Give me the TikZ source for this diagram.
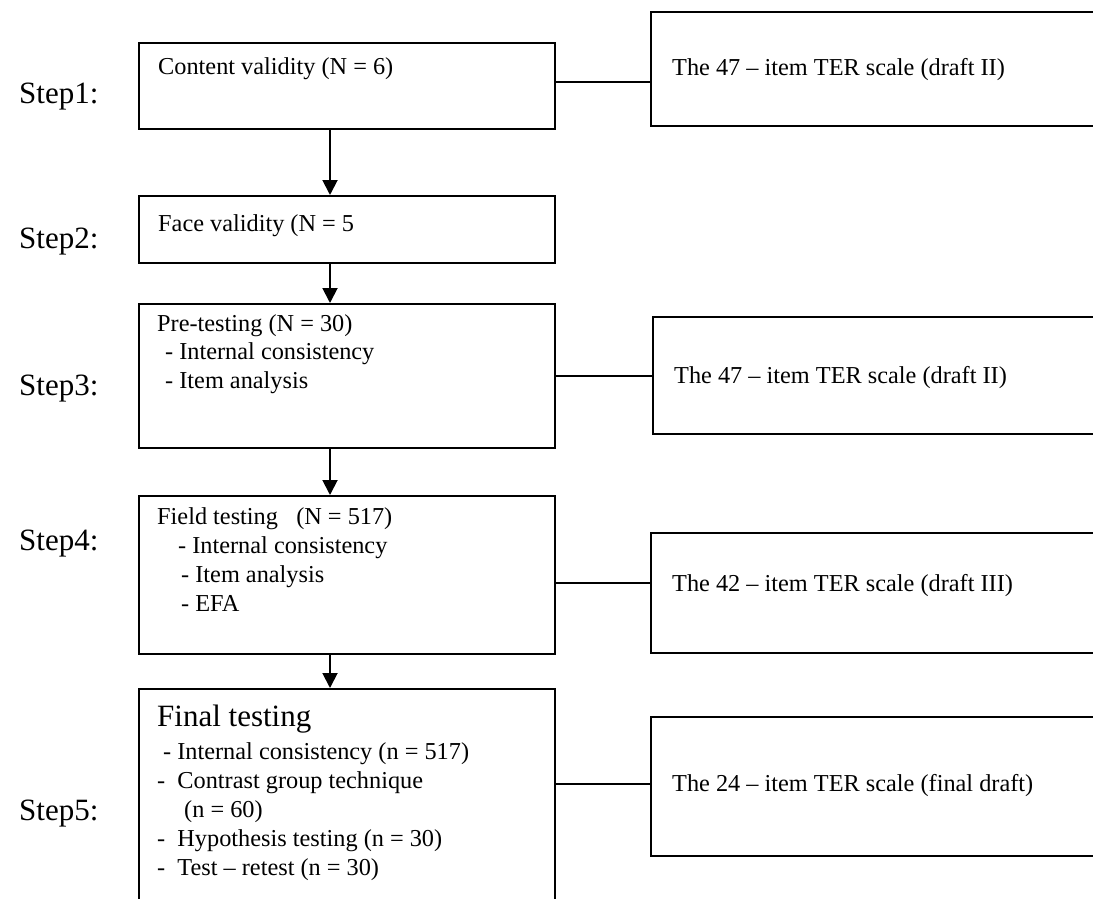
\documentclass[tikz,border=0pt]{standalone}
\usepackage{fontspec}
\setmainfont{Liberation Serif}
\usetikzlibrary{arrows.meta,calc}
\begin{document}
\begin{tikzpicture}[x=1pt,y=-1pt,
  box/.style={draw,line width=1.9pt,rectangle,inner sep=0,anchor=north west,minimum width=#1},
  box/.default=416pt,
  txt/.style={anchor=base west,inner sep=0,font=\fontsize{24.3}{29}\selectfont},
  bigtxt/.style={anchor=base west,inner sep=0,font=\fontsize{31}{36}\selectfont},
  steplbl/.style={anchor=base west,inner sep=0,font=\fontsize{31}{36}\selectfont},
  conn/.style={line width=1.9pt},
  flow/.style={line width=1.9pt,-{Triangle[length=15pt,width=15pt]}}]
\useasboundingbox (0,0) rectangle (1093,899);
\fill[white] (0,0) rectangle (1093,899);
\clip (0,0) rectangle (1093,899);

% left boxes
\node[box,minimum height=86pt] (b1) at (138,42) {};
\node[box,minimum height=67pt] (b2) at (138,195) {};
\node[box,minimum height=144pt] (b3) at (138,303) {};
\node[box,minimum height=158pt] (b4) at (138,495) {};
\node[box,minimum height=240pt] (b5) at (138,688) {};

% right boxes
\node[box=470pt,minimum height=114pt] (r1) at (650,11) {};
\node[box=470pt,minimum height=117pt] (r3) at (652,316) {};
\node[box=470pt,minimum height=120pt] (r4) at (650,532) {};
\node[box=470pt,minimum height=139pt] (r5) at (650,716) {};

% step labels
\node[steplbl] (s1) at (19,103) {Step1:};
\node[steplbl] (s2) at (19,248) {Step2:};
\node[steplbl] (s3) at (19,395) {Step3:};
\node[steplbl] (s4) at (19,550) {Step4:};
\node[steplbl] (s5) at (19,820) {Step5:};

% texts
\node[txt] (t1) at (158,75) {Content validity (N = 6)};
\node[txt] (rt1) at (672,76) {The 47 – item TER scale (draft II)};
\node[txt] (t2) at (158,231) {Face validity (N = 5};
\node[txt] (t3a) at (157,331) {Pre-testing (N = 30)};
\node[txt] (t3b) at (165,359) {- Internal consistency};
\node[txt] (t3c) at (165,388) {- Item analysis};
\node[txt] (rt3) at (674,383) {The 47 – item TER scale (draft II)};
\node[txt] (t4a) at (157,524) {Field testing\ \ \ (N = 517)};
\node[txt] (t4b) at (178,553) {- Internal consistency};
\node[txt] (t4c) at (181,582) {- Item analysis};
\node[txt] (t4d) at (181,611) {- EFA};
\node[txt] (rt4) at (672,591) {The 42 – item TER scale (draft III)};
\node[bigtxt] (t5a) at (157,726) {Final testing};
\node[txt] (t5b) at (163,759) {- Internal consistency (n = 517)};
\node[txt] (t5c) at (157,788) {-\ \ Contrast group technique};
\node[txt] (t5d) at (184,817) {(n = 60)};
\node[txt] (t5e) at (157,846) {-\ \ Hypothesis testing (n = 30)};
\node[txt] (t5f) at (157,875) {-\ \ Test – retest (n = 30)};
\node[txt] (rt5) at (672,791) {The 24 – item TER scale (final draft)};

% helper coordinates
\coordinate (ax) at (330,0);
\coordinate (y1) at (0,82);
\coordinate (y3) at (0,376);
\coordinate (y4) at (0,583);
\coordinate (y5) at (0,784);

% arrows
\draw[flow] (b1.south -| ax) -- (b2.north -| ax);
\draw[flow] (b2.south -| ax) -- (b3.north -| ax);
\draw[flow] (b3.south -| ax) -- (b4.north -| ax);
\draw[flow] (b4.south -| ax) -- (b5.north -| ax);

% connectors
\draw[conn] (b1.east |- y1) -- (r1.west |- y1);
\draw[conn] (b3.east |- y3) -- (r3.west |- y3);
\draw[conn] (b4.east |- y4) -- (r4.west |- y4);
\draw[conn] (b5.east |- y5) -- (r5.west |- y5);
\end{tikzpicture}
\end{document}
